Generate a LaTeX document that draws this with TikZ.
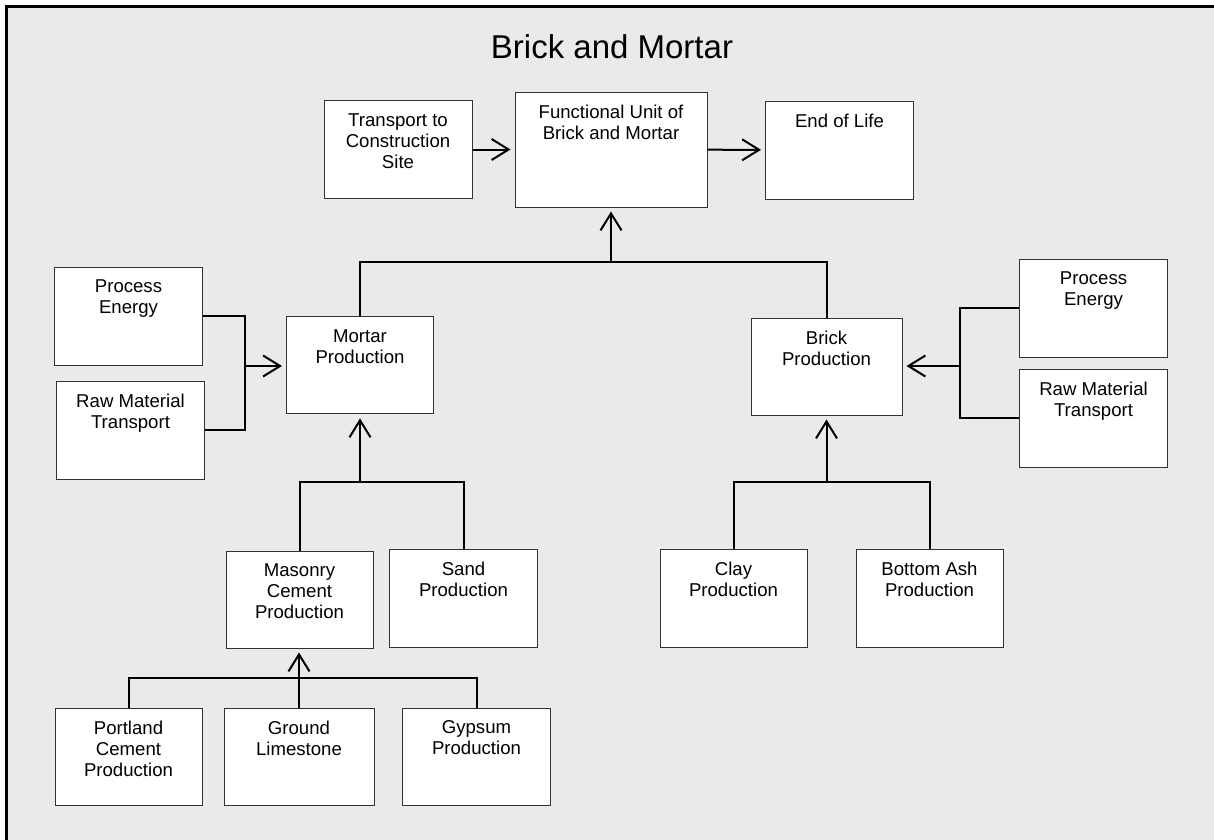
\documentclass[tikz,border=0pt]{standalone}
\usepackage{fontspec}
\setmainfont{Liberation Sans}
\usetikzlibrary{arrows.meta,positioning,calc}
\definecolor{panelgray}{HTML}{EAEAEA}
\definecolor{boxline}{HTML}{333333}

\begin{document}
\begin{tikzpicture}[x=1pt,y=-1pt,
    blk/.style={draw=boxline, line width=1pt, fill=white, minimum width=148pt, minimum height=98pt, inner sep=0pt,
        label={[anchor=north, yshift=-13pt, inner sep=0pt, align=center, font=\fontsize{18.6pt}{21pt}\selectfont]north:#1}},
    ln/.style={line width=2pt},
    arr/.style={ln, -{Straight Barb[length=17pt,width=21pt]}, shorten >=4pt}]
    \useasboundingbox (0,0) rectangle (1214,839);
    \clip (0,0) rectangle (1214,839);

    % Frame
    \fill[white] (0,0) rectangle (1214,839);
    \draw[line width=2.6pt, fill=panelgray] (6.5,6.2) rectangle (1240,860);

    % Title
    \node[font=\fontsize{33pt}{38pt}\selectfont, anchor=base] (title) at (612,58) {Brick and Mortar};

    % Top row
    \node[blk={Transport to\\Construction\\Site}] (trans) at (398,149.5) {};
    \node[blk={Functional Unit of\\Brick and Mortar}, minimum width=192pt, minimum height=115pt] (fu) at (611,149.5) {};
    \node[blk={End of Life}] (eol) at (839.5,150) {};

    % Mortar side
    \node[blk={Process\\Energy}] (peL) at (128.5,316) {};
    \node[blk={Raw Material\\Transport}] (rmL) at (130.5,430) {};
    \node[blk={Mortar\\Production}, minimum width=147pt, minimum height=97pt] (mortar) at (360,365.4) {};
    \node[blk={Masonry\\Cement\\Production}, minimum width=147pt, minimum height=97pt] (mason) at (299.5,599.5) {};
    \node[blk={Sand\\Production}] (sand) at (463.5,598) {};
    \node[blk={Portland\\Cement\\Production}, minimum width=147pt, minimum height=97pt] (portland) at (128.5,756.5) {};
    \node[blk={Ground\\Limestone}, minimum width=150pt, minimum height=97pt] (lime) at (299,756.5) {};
    \node[blk={Gypsum\\Production}, minimum height=97pt] (gyps) at (476.5,756.5) {};

    % Brick side
    \node[blk={Brick\\Production}, minimum width=151pt, minimum height=97pt] (brick) at (826.5,366.5) {};
    \node[blk={Process\\Energy}] (peR) at (1093.5,308) {};
    \node[blk={Raw Material\\Transport}] (rmR) at (1093.5,418) {};
    \node[blk={Clay\\Production}, minimum width=147pt] (clay) at (733.5,598) {};
    \node[blk={Bottom Ash\\Production}, minimum width=147pt] (ash) at (929.5,598) {};

    % Junctions
    \coordinate (jTop) at (611,262);
    \coordinate (spL) at (245,366);
    \coordinate (spR) at (960,366);
    \coordinate (jM) at (360,481.7);
    \coordinate (jB) at (826.5,482);
    \coordinate (jC) at (299.5,678.3);

    % Connectors
    \draw[arr] (trans) -- (fu);
    \draw[arr] (fu) -- (eol);
    \draw[ln] (mortar.north) |- (jTop) -| (brick.north);
    \draw[arr] (jTop) -- (fu.south);

    \draw[ln] (peL.east) -| (spL) |- (rmL.east);
    \draw[arr] (spL) -- (spL -| mortar.west);
    \draw[ln] (peR.west) -| (spR) |- (rmR.west);
    \draw[arr] (spR) -- (spR -| brick.east);

    \draw[ln] (mason.north) |- (jM) -| (sand.north);
    \draw[arr] (jM) -- (mortar.south);
    \draw[ln] (clay.north) |- (jB) -| (ash.north);
    \draw[arr] (jB) -- (brick.south);

    \draw[ln] (portland.north) |- (jC) -| (gyps.north);
    \draw[arr] (lime.north) -- (lime.north |- mason.south);
\end{tikzpicture}
\end{document}
